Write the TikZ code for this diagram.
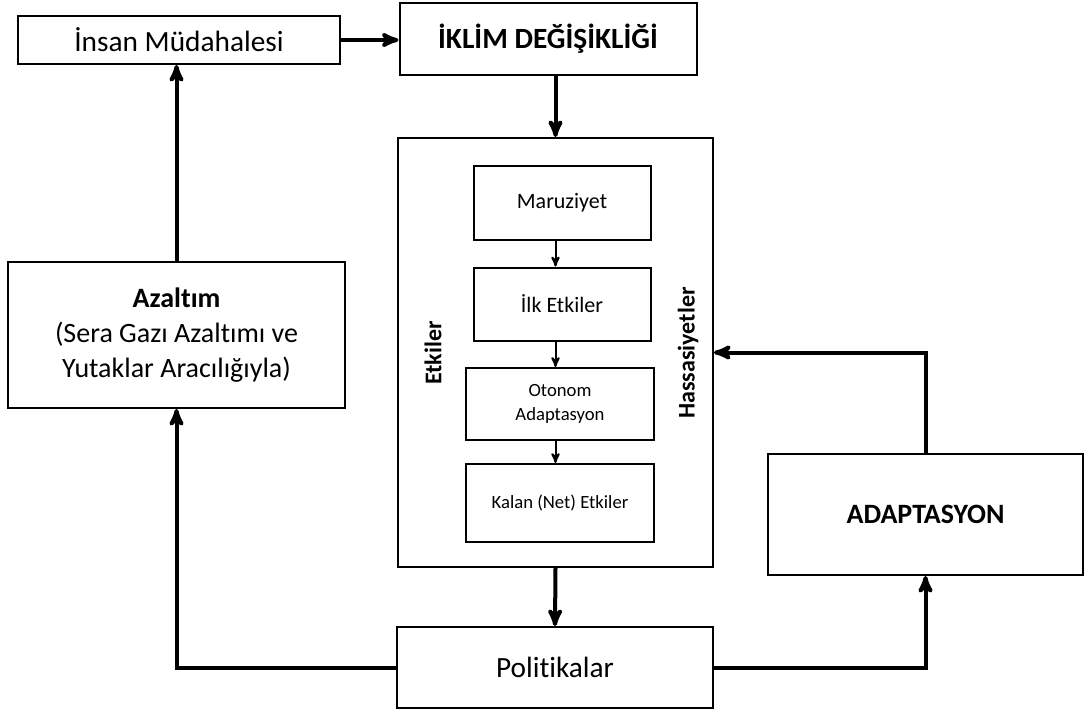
\documentclass[tikz,border=0pt]{standalone}
\usepackage{fontspec}
\setmainfont{Carlito}[Ligatures={NoCommon}]
\usetikzlibrary{positioning,shapes,fit,arrows}
\tikzset{
        >=stealth', % pointed arrow heads
        box/.style={draw, line width=1.5pt, fill=white, align=center, inner sep=0pt}, % every framed box
        flow/.style={->, line width=3pt}, % the heavy connectors
        small flow/.style={->, line width=1.5pt}, % arrows inside the impact box
        big text/.style={font=\fontsize{22}{27}\selectfont},
        side text/.style={font=\fontsize{18}{22}\selectfont\bfseries, rotate=90},
}

\begin{document}
\begin{tikzpicture}[x=0.75pt,y=-0.75pt]
\useasboundingbox (0,0) rectangle (1088,719);

% top row
\node[box, big text, minimum width=241.5pt, minimum height=36pt] (insan) at (179,40) {İnsan Müdahalesi};
\node[box, big text, font=\fontsize{22}{27}\selectfont\bfseries, minimum width=222.75pt, minimum height=54pt] (iklim) at (548,39) {İKLİM DEĞİŞİKLİĞİ};

% impacts and the steps inside
\node[box, minimum width=236.25pt, minimum height=321.75pt] (etki) at (555.5,352.5) {};
\node[box, font=\fontsize{16.5}{20}\selectfont, minimum width=132.75pt, minimum height=55.5pt] (maruz) at (562,203) {Maruziyet};
\node[box, font=\fontsize{16.5}{20}\selectfont, minimum width=132.75pt, minimum height=54.75pt] (ilk) at (562,304) {İlk Etkiler};
\node[box, font=\fontsize{14}{18}\selectfont, minimum width=141pt, minimum height=54pt] (otonom) at (560,404) {Otonom\\Adaptasyon};
\node[box, font=\fontsize{14}{18}\selectfont, minimum width=141pt, minimum height=58.5pt] (kalan) at (560,503) {Kalan (Net) Etkiler};
\node[side text] (etkiler) at (433,353) {Etkiler};
\node[side text] (hassas) at (688,353) {Hassasiyetler};

% responses
\node[box, font=\fontsize{21}{26}\selectfont, minimum width=252.75pt, minimum height=109.5pt] (azalt) at (176.5,335) {\textbf{Azaltım}\\(Sera Gazı Azaltımı ve\\Yutaklar Aracılığıyla)};
\node[box, font=\fontsize{21}{26}\selectfont\bfseries, minimum width=236.25pt, minimum height=90.75pt] (adapt) at (925.5,514.5) {ADAPTASYON};
\node[box, big text, minimum width=237pt, minimum height=60.75pt] (polit) at (555,667.5) {Politikalar};

% connectors
\draw[flow] (insan.east) -- (iklim.west |- insan.east);
\draw[flow] (etki.north |- iklim.south) -- (etki.north);
\foreach \a/\b in {maruz/ilk, ilk/otonom, otonom/kalan}
  \draw[small flow] (\a.south -| etki.center) -- (\b.north -| etki.center);
\draw[flow] (etki.south) -- (polit.north);
\draw[flow] (polit.west) -| (azalt.south);
\draw[flow] (azalt.north) -- (insan.south -| azalt.north);
\draw[flow] (polit.east) -| (adapt.south);
\draw[flow] (adapt.north) |- (etki.east);
\end{tikzpicture}
\end{document}
